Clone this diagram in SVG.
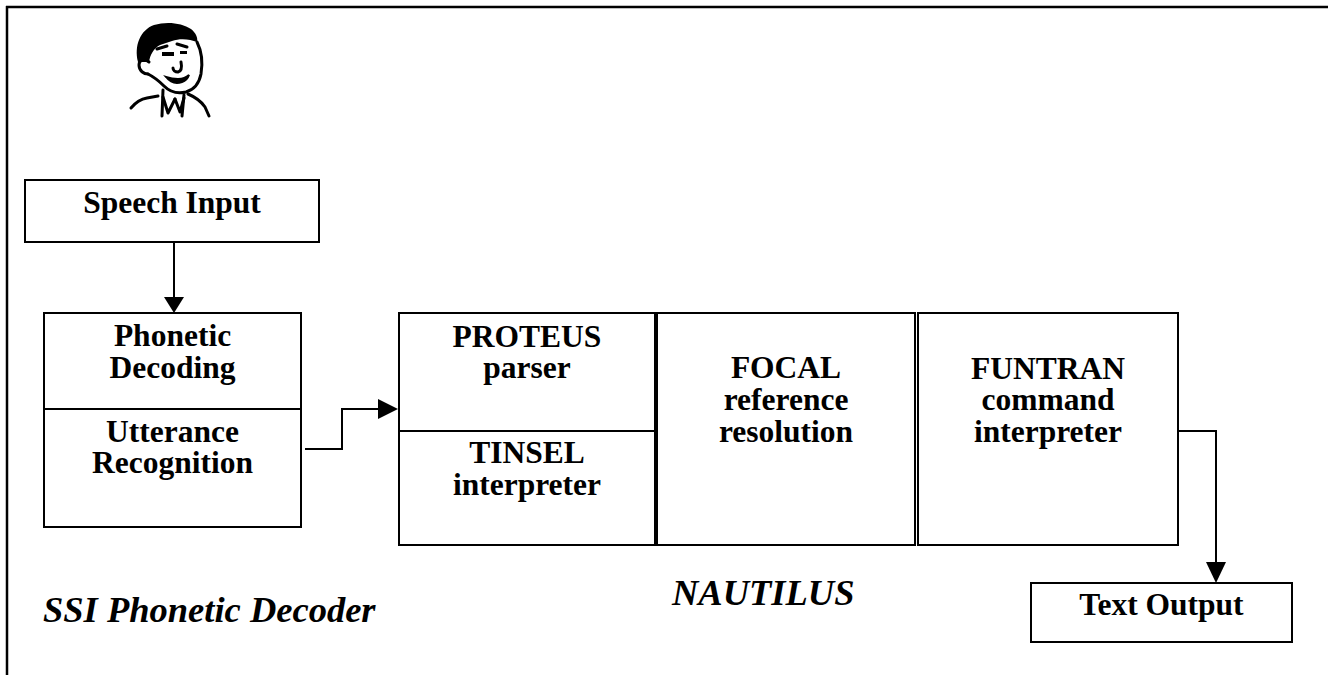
<svg xmlns="http://www.w3.org/2000/svg" width="1328" height="675" viewBox="0 0 1328 675">
<style>
.box{fill:#fff;stroke:#000;stroke-width:2}
.lbl{font-family:"Liberation Serif","Times New Roman",serif;font-weight:bold;font-size:31.5px;text-anchor:middle;fill:#000}
.cap{font-family:"Liberation Serif","Times New Roman",serif;font-weight:bold;font-style:italic;font-size:36.5px;fill:#000}
.wire{fill:none;stroke:#000;stroke-width:2}
.head{fill:#000;stroke:none}
.face{fill:none;stroke:#000;stroke-width:3;stroke-linecap:round;stroke-linejoin:round}
</style>
<rect x="0" y="0" width="1328" height="675" fill="#fff"/>
<g id="frame">
<line x1="6" y1="7" x2="1328" y2="7" stroke="#000" stroke-width="2.5"/>
<line x1="7" y1="6" x2="7" y2="675" stroke="#000" stroke-width="2.5"/>
</g>
<g id="user-icon">
<path d="M138,62 C134,46 140,30 154,25 C167,21 182,23 191,29 C196,33 198,38 197,42 C190,39 180,38 172,41 L160,45 C154,48 150,55 149,62 Z" fill="#000"/>
<path class="face" d="M197,42 C201,50 203,62 201,74 C199,84 193,90 186,92 C178,94 170,92 164,86 C158,80 152,76 148,74"/>
<path class="face" d="M149,62 C144,58 139,60 139,65 C139,71 144,74 148,74"/>
<path class="face" d="M157,49 L167,46"/>
<path class="face" d="M177,44 L187,47"/>
<path d="M162,52 L174,52 L174,56 L162,56 Z" fill="#000"/>
<path d="M180,51 L187,51 L187,54 L180,54 Z" fill="#000"/>
<path class="face" d="M181,62 C182,67 182,71 178,72 C175,72 173,70 173,68"/>
<path d="M166,77 C170,82 176,84 182,82 C185,81 188,78 189,75 C186,78 182,79 178,79 C173,79 169,78 166,77 Z" fill="#000" stroke="#000" stroke-width="2"/>
<path class="face" d="M131,108 C136,102 141,99 147,98 L158,96"/>
<path class="face" d="M163,90 L162,116"/>
<path class="face" d="M163,97 L168,113 L175,99"/>
<path class="face" d="M175,99 L180,112 L184,98"/>
<path class="face" d="M184,95 L182,116"/>
<path class="face" d="M188,94 C195,97 201,101 205,107 L209,116"/>
</g>
<g id="connectors">
<line class="wire" x1="174" y1="242" x2="174" y2="298"/>
<polygon class="head" points="164,297 184,297 174,313"/>
<polyline class="wire" points="305,449 342,449 342,409 380,409"/>
<polygon class="head" points="378,399 378,419 398,409"/>
<polyline class="wire" points="1178,431 1216,431 1216,563"/>
<polygon class="head" points="1206,562 1226,562 1216,583"/>
</g>
<g id="speech-input">
<rect class="box" x="25" y="180" width="294" height="62"/>
<text class="lbl" x="172" y="213">Speech Input</text>
</g>
<g id="phonetic-decoder">
<rect class="box" x="44" y="313" width="257" height="214"/>
<line class="wire" x1="44" y1="409" x2="301" y2="409"/>
<text class="lbl" x="172.5" y="346">Phonetic</text>
<text class="lbl" x="172.5" y="378">Decoding</text>
<text class="lbl" x="172.5" y="442">Utterance</text>
<text class="lbl" x="172.5" y="473">Recognition</text>
</g>
<g id="proteus-tinsel">
<rect class="box" x="399" y="313" width="256" height="232"/>
<line class="wire" x1="399" y1="431" x2="655" y2="431"/>
<text class="lbl" x="527" y="347">PROTEUS</text>
<text class="lbl" x="527" y="378">parser</text>
<text class="lbl" x="527" y="463">TINSEL</text>
<text class="lbl" x="527" y="495">interpreter</text>
</g>
<g id="focal">
<rect class="box" x="657" y="313" width="258" height="232"/>
<text class="lbl" x="786" y="378">FOCAL</text>
<text class="lbl" x="786" y="410">reference</text>
<text class="lbl" x="786" y="442">resolution</text>
</g>
<g id="funtran">
<rect class="box" x="918" y="313" width="260" height="232"/>
<text class="lbl" x="1048" y="379">FUNTRAN</text>
<text class="lbl" x="1048" y="410">command</text>
<text class="lbl" x="1048" y="442">interpreter</text>
</g>
<g id="text-output">
<rect class="box" x="1031" y="583" width="261" height="59"/>
<text class="lbl" x="1161.5" y="615">Text Output</text>
</g>
<g id="captions">
<text class="cap" x="43" y="622">SSI Phonetic Decoder</text>
<text class="cap" x="672" y="605">NAUTILUS</text>
</g>
</svg>
